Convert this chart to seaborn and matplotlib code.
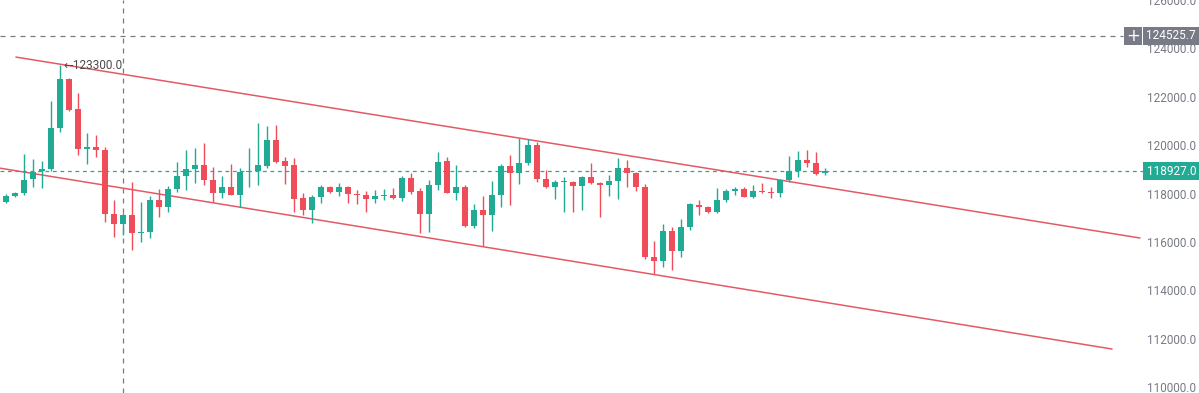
import matplotlib
matplotlib.use("Agg")
import matplotlib.pyplot as plt
import matplotlib.transforms as mtransforms
from matplotlib.patches import Rectangle
import seaborn as sns
import numpy as np
import pandas as pd

# ---------------- data ----------------
OPEN = [117400, 117650, 117890, 118020, 118600, 118930, 119010, 120700, 122730, 121490,
        119830, 119920, 119790, 117150, 116740, 117110, 116370, 116410, 117730, 117440,
        118180, 118720, 119010, 119170, 118550, 118020, 118270, 117940, 118890, 118930,
        119130, 120210, 119340, 119170, 117810, 117320, 117850, 118270, 118060, 118270,
        117980, 117940, 117770, 117890, 117940, 117810, 118640, 118100, 117150, 118350,
        119340, 118020, 118270, 116650, 117320, 117110, 117940, 119130, 118840, 119260,
        120000, 118600, 118270, 118470, 118470, 118310, 118680, 118430, 118350, 118510,
        119050, 118840, 118270, 115370, 115210, 116450, 115620, 116610, 117520, 117440,
        117230, 117730, 118100, 118180, 117850, 118100, 118060, 118020, 118550, 118930,
        119380, 119260, 118840]
HIGH = [117730, 117980, 118060, 119630, 119420, 119340, 121820, 123300, 122770, 122150,
        120500, 120410, 119920, 117730, 117190, 118470, 117650, 117890, 118180, 118310,
        119300, 119790, 119880, 120080, 119090, 118720, 119220, 119050, 119880, 120910,
        120780, 120830, 119500, 119460, 118020, 117940, 118350, 118310, 118430, 118310,
        118140, 118100, 118140, 118180, 118220, 118720, 118840, 118220, 118550, 119710,
        119500, 119170, 118350, 117560, 117890, 118510, 119220, 119590, 120290, 120250,
        120120, 118970, 118550, 118680, 118510, 118720, 119260, 118470, 118760, 119460,
        119380, 118890, 118390, 116040, 116740, 116610, 116940, 117600, 117730, 117480,
        118220, 118180, 118270, 118270, 118350, 118430, 118270, 118600, 119550, 119750,
        119790, 119710, 119050]
LOW = [117320, 117600, 117850, 117940, 118270, 118220, 118930, 120540, 121400, 119590,
       119220, 119500, 116820, 116200, 116280, 115660, 115990, 116160, 117030, 117230,
       118060, 118140, 118430, 118350, 117650, 117810, 117940, 117440, 118270, 118350,
       119050, 119260, 118390, 117230, 117110, 116780, 117600, 118020, 117890, 117600,
       117560, 117230, 117600, 117730, 117770, 117690, 117980, 116370, 116410, 118140,
       118020, 117730, 116610, 116570, 115830, 116450, 117440, 117520, 118390, 119170,
       118470, 118220, 117770, 117230, 117230, 117320, 118390, 117030, 117890, 117770,
       118270, 118100, 115290, 114670, 114960, 114840, 115370, 116490, 117110, 117190,
       117190, 117650, 117940, 117850, 117810, 118020, 117810, 117850, 118470, 118680,
       119090, 118760, 118760]
CLOSE = [117650, 117890, 118020, 118550, 118890, 119010, 120700, 122730, 121450, 119830,
         119920, 119790, 117150, 116740, 117110, 116370, 116410, 117730, 117440, 118180,
         118720, 119010, 119170, 118550, 118020, 118270, 117940, 118890, 118930, 119170,
         120210, 119300, 119130, 117770, 117320, 117850, 118270, 118060, 118270, 117980,
         117940, 117770, 117890, 117940, 117810, 118640, 118060, 117150, 118350, 119300,
         118020, 118270, 116650, 117320, 117110, 117940, 119130, 118840, 119260, 120000,
         118600, 118270, 118470, 118510, 118310, 118680, 118430, 118350, 118510, 119050,
         118840, 118270, 115370, 115210, 116450, 115620, 116610, 117560, 117440, 117230,
         117730, 118100, 118180, 117850, 118100, 118060, 118020, 118550, 118930, 119380,
         119260, 118800, 118927]

LAST_PRICE = 118927.0
CROSSHAIR_PRICE = 124525.7
CROSSHAIR_BAR = 14
PEAK_LABEL = "123300.0"
PEAK_BAR = 7
PEAK_PRICE = 123300.0

UPPER_LINE_X = [2.1, 127.0]
UPPER_LINE_Y = [123640, 116160]
LOWER_LINE_X = [0.3, 123.9]
LOWER_LINE_Y = [119050, 111570]

Y_TICKS = [110000, 112000, 114000, 116000, 118000, 120000, 122000, 124000, 126000]
Y_TICK_LABELS = ["110000.0", "112000.0", "114000.0", "116000.0", "118000.0",
                 "120000.0", "122000.0", "124000.0", "126000.0"]

# ---------------- style ----------------
sns.set_theme(style="white")
plt.rcParams["font.family"] = ["Roboto", "DejaVu Sans"]

UP = "#22ab94"
DOWN = "#ef4d5a"
GRAY = "#787b86"
LINE_RED = "#e35a66"

df = pd.DataFrame({"open": OPEN, "high": HIGH, "low": LOW, "close": CLOSE})
df["bar"] = np.arange(len(df))
df["up"] = df["close"] >= df["open"]
df["color"] = np.where(df["up"], UP, DOWN)

fig = plt.figure(figsize=(11.99, 3.93), dpi=100)
ax = fig.add_axes([0, 0, 1, 1])
ax.set_xlim(0.33, 133.56)
ax.set_ylim(109752, 125992)

# channel lines
sns.lineplot(x=UPPER_LINE_X, y=UPPER_LINE_Y, ax=ax, color=LINE_RED, linewidth=1.1, zorder=2)
sns.lineplot(x=LOWER_LINE_X, y=LOWER_LINE_Y, ax=ax, color=LINE_RED, linewidth=1.1, zorder=2)

# wicks
ax.vlines(df["bar"], df["low"], df["high"], colors=df["color"], linewidth=1.0, zorder=3)
# bodies
body_bottom = df[["open", "close"]].min(axis=1)
body_height = (df["close"] - df["open"]).abs().clip(lower=45)
ax.bar(df["bar"], body_height, bottom=body_bottom, width=0.72, color=df["color"],
       linewidth=0, zorder=4)

trans_x_axes = mtransforms.blended_transform_factory(ax.transAxes, ax.transData)

# crosshair lines
ax.plot([0, 1123 / 1199], [CROSSHAIR_PRICE, CROSSHAIR_PRICE], transform=trans_x_axes,
        color=GRAY, linewidth=0.9, dashes=(4, 4), zorder=1)
ax.axvline(CROSSHAIR_BAR, color=GRAY, linewidth=0.9, dashes=(4, 4), zorder=1)
# last price line
ax.plot([0, 1143 / 1199], [LAST_PRICE, LAST_PRICE], transform=trans_x_axes,
        color=UP, linewidth=0.9, dashes=(3, 3), zorder=1)

# right-side price scale
ax.yaxis.set_ticks_position("right")
ax.set_yticks(Y_TICKS)
ax.set_yticklabels(Y_TICK_LABELS)
ax.tick_params(axis="y", length=0, pad=-2, labelsize=8.5, labelcolor=GRAY)
for lbl in ax.get_yticklabels():
    lbl.set_horizontalalignment("right")
ax.set_xticks([])
for s in ax.spines.values():
    s.set_visible(False)

# label boxes
box_h = 18 * 41.32
bx0 = 1143 / 1199
bw = 1 - bx0
ax.add_patch(Rectangle((bx0, LAST_PRICE - box_h / 2), bw, box_h, transform=trans_x_axes,
                       facecolor=UP, edgecolor="none", zorder=6, clip_on=False))
ax.text(0.9975, LAST_PRICE, f"{LAST_PRICE:.1f}", transform=trans_x_axes, ha="right",
        va="center", color="white", fontsize=8.5, zorder=7)

ax.add_patch(Rectangle((bx0, CROSSHAIR_PRICE - box_h / 2), bw, box_h, transform=trans_x_axes,
                       facecolor=GRAY, edgecolor="none", zorder=6, clip_on=False))
ax.text(0.9975, CROSSHAIR_PRICE, f"{CROSSHAIR_PRICE:.1f}", transform=trans_x_axes, ha="right",
        va="center", color="white", fontsize=8.5, zorder=7)
px0 = 1124 / 1199
pw = 17.5 / 1199
ax.add_patch(Rectangle((px0, CROSSHAIR_PRICE - box_h / 2), pw, box_h, transform=trans_x_axes,
                       facecolor=GRAY, edgecolor="none", zorder=6, clip_on=False))
ax.text(px0 + pw / 2, CROSSHAIR_PRICE, "+", transform=trans_x_axes, ha="center",
        va="center", color="white", fontsize=12, zorder=7, family=["DejaVu Sans"])

# peak label
ax.text(PEAK_BAR + 0.33, PEAK_PRICE, "\u2190" + PEAK_LABEL, ha="left", va="center",
        color="#4a4a4a", fontsize=8.5, zorder=7, family=["Roboto", "DejaVu Sans"])

fig.savefig("out.png", dpi=100, facecolor="white")
